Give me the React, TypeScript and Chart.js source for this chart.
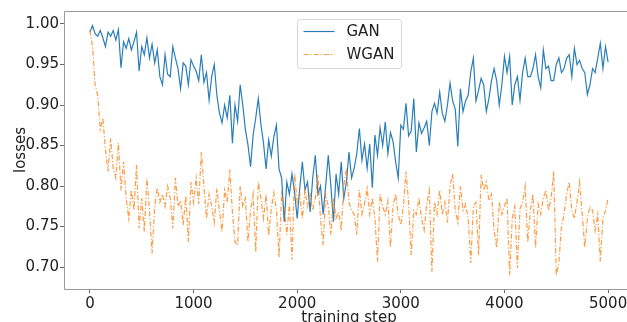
import { useEffect, useRef } from 'react';
import { Chart, registerables } from 'chart.js';

Chart.register(...registerables);

// Loss values logged every 25 training steps, from step 0 to step 5000.
const stepInterval = 25;

const ganLoss = [
  0.990, 0.998, 0.988, 0.985, 0.992, 0.983, 0.972, 0.990, 0.985, 0.992,
  0.980, 0.993, 0.946, 0.978, 0.970, 0.982, 0.968, 0.978, 0.990, 0.942,
  0.972, 0.962, 0.983, 0.958, 0.975, 0.952, 0.968, 0.935, 0.925, 0.962,
  0.938, 0.935, 0.972, 0.958, 0.945, 0.920, 0.952, 0.948, 0.925, 0.956,
  0.948, 0.942, 0.930, 0.962, 0.928, 0.940, 0.906, 0.935, 0.950, 0.912,
  0.890, 0.878, 0.900, 0.884, 0.912, 0.853, 0.900, 0.880, 0.925, 0.900,
  0.870, 0.851, 0.824, 0.863, 0.884, 0.908, 0.876, 0.853, 0.821, 0.857,
  0.837, 0.861, 0.875, 0.821, 0.810, 0.756, 0.805, 0.790, 0.815, 0.792,
  0.760, 0.798, 0.830, 0.795, 0.805, 0.768, 0.810, 0.838, 0.790, 0.800,
  0.765, 0.800, 0.838, 0.800, 0.756, 0.815, 0.790, 0.830, 0.785, 0.805,
  0.842, 0.810, 0.822, 0.840, 0.871, 0.832, 0.852, 0.822, 0.852, 0.798,
  0.863, 0.838, 0.872, 0.850, 0.879, 0.840, 0.866, 0.855, 0.830, 0.810,
  0.875, 0.870, 0.902, 0.862, 0.868, 0.908, 0.842, 0.878, 0.865, 0.872,
  0.880, 0.850, 0.892, 0.902, 0.890, 0.916, 0.890, 0.880, 0.900, 0.927,
  0.905, 0.895, 0.849, 0.920, 0.892, 0.905, 0.912, 0.941, 0.958, 0.905,
  0.918, 0.933, 0.925, 0.892, 0.908, 0.930, 0.945, 0.930, 0.900, 0.925,
  0.960, 0.940, 0.960, 0.900, 0.925, 0.935, 0.906, 0.940, 0.958, 0.935,
  0.935, 0.945, 0.962, 0.935, 0.921, 0.968, 0.945, 0.948, 0.930, 0.930,
  0.950, 0.958, 0.940, 0.945, 0.958, 0.962, 0.935, 0.970, 0.950, 0.955,
  0.945, 0.940, 0.913, 0.925, 0.945, 0.940, 0.958, 0.976, 0.945, 0.972,
  0.953,
];

const wganLoss = [
  0.992, 0.972, 0.925, 0.912, 0.870, 0.884, 0.845, 0.818, 0.859, 0.822,
  0.810, 0.853, 0.795, 0.830, 0.785, 0.760, 0.795, 0.770, 0.826, 0.748,
  0.785, 0.744, 0.810, 0.770, 0.717, 0.775, 0.798, 0.780, 0.790, 0.775,
  0.800, 0.785, 0.748, 0.810, 0.775, 0.782, 0.752, 0.788, 0.731, 0.805,
  0.780, 0.810, 0.778, 0.842, 0.800, 0.760, 0.790, 0.775, 0.755, 0.797,
  0.770, 0.744, 0.795, 0.780, 0.820, 0.768, 0.731, 0.727, 0.800, 0.775,
  0.785, 0.731, 0.770, 0.790, 0.719, 0.805, 0.785, 0.760, 0.790, 0.739,
  0.772, 0.792, 0.770, 0.712, 0.790, 0.775, 0.740, 0.778, 0.709, 0.815,
  0.780, 0.790, 0.760, 0.795, 0.775, 0.790, 0.770, 0.785, 0.814, 0.760,
  0.727, 0.790, 0.775, 0.740, 0.785, 0.760, 0.768, 0.745, 0.800, 0.822,
  0.780, 0.770, 0.765, 0.740, 0.795, 0.765, 0.778, 0.797, 0.765, 0.785,
  0.760, 0.707, 0.790, 0.775, 0.765, 0.782, 0.725, 0.775, 0.790, 0.765,
  0.752, 0.775, 0.818, 0.780, 0.715, 0.770, 0.765, 0.785, 0.760, 0.745,
  0.778, 0.795, 0.694, 0.780, 0.765, 0.795, 0.765, 0.780, 0.755, 0.800,
  0.815, 0.770, 0.755, 0.800, 0.770, 0.778, 0.760, 0.705, 0.775, 0.780,
  0.715, 0.814, 0.795, 0.805, 0.782, 0.790, 0.745, 0.724, 0.780, 0.765,
  0.775, 0.785, 0.690, 0.760, 0.775, 0.699, 0.772, 0.780, 0.800, 0.731,
  0.770, 0.790, 0.724, 0.778, 0.765, 0.785, 0.795, 0.770, 0.785, 0.818,
  0.690, 0.705, 0.750, 0.765, 0.790, 0.805, 0.770, 0.760, 0.780, 0.805,
  0.765, 0.724, 0.760, 0.775, 0.770, 0.745, 0.765, 0.707, 0.760, 0.770,
  0.785,
];

const seriesNames = ['GAN', 'WGAN'];
const xTickValues = [0, 1000, 2000, 3000, 4000, 5000];
const yTickValues = [0.7, 0.75, 0.8, 0.85, 0.9, 0.95, 1.0];
const xAxisTitle = 'training step';
const yAxisTitle = 'losses';

const FONT_FAMILY = '"DejaVu Sans", Verdana, sans-serif';
const FONT_SIZE = 15;
const TEXT_COLOR = '#222222';
const FRAME_COLOR = '#9a9a9a';
const TICK_COLOR = '#6a6a6a';
const GAN_COLOR = 'rgba(31,119,180,0.95)';
const WGAN_COLOR = 'rgba(255,127,14,0.78)';
const WGAN_DASH = [5, 2, 1.2, 2];

const CANVAS_W = 640;
const CANVAS_H = 335;

// Draws the closed plot frame, the legend box and both axis titles.
const framePlugin = {
  id: 'frameAndLegend',
  afterDraw(chart: Chart) {
    const { ctx, chartArea: a } = chart;
    ctx.save();

    ctx.strokeStyle = FRAME_COLOR;
    ctx.lineWidth = 1;
    ctx.setLineDash([]);
    ctx.beginPath();
    ctx.moveTo(a.left + 0.5, a.top + 0.5);
    ctx.lineTo(a.right - 0.5, a.top + 0.5);
    ctx.lineTo(a.right - 0.5, a.bottom + 0.5);
    ctx.lineTo(a.left + 0.5, a.bottom + 0.5);
    ctx.closePath();
    ctx.stroke();

    // legend, upper centre
    const cx = (a.left + a.right) / 2;
    const boxW = 104;
    const boxH = 49;
    const bx = Math.round(cx - boxW / 2) + 0.5;
    const by = a.top + 8 + 0.5;
    ctx.beginPath();
    ctx.roundRect(bx, by, boxW, boxH, 3);
    ctx.fillStyle = 'rgba(255,255,255,0.8)';
    ctx.fill();
    ctx.strokeStyle = '#d6d6d6';
    ctx.stroke();

    const rows = [
      { label: seriesNames[0], color: GAN_COLOR, dash: [] as number[] },
      { label: seriesNames[1], color: WGAN_COLOR, dash: WGAN_DASH },
    ];
    ctx.font = `${FONT_SIZE}px ${FONT_FAMILY}`;
    ctx.textBaseline = 'middle';
    ctx.textAlign = 'left';
    rows.forEach((row, i) => {
      const ry = by + 12 + i * 23;
      ctx.beginPath();
      ctx.setLineDash(row.dash);
      ctx.strokeStyle = row.color;
      ctx.lineWidth = 1.2;
      ctx.moveTo(bx + 6, ry);
      ctx.lineTo(bx + 37, ry);
      ctx.stroke();
      ctx.setLineDash([]);
      ctx.fillStyle = TEXT_COLOR;
      ctx.fillText(row.label, bx + 49, ry + 1);
    });

    // axis titles
    ctx.fillStyle = TEXT_COLOR;
    ctx.textAlign = 'center';
    ctx.textBaseline = 'alphabetic';
    ctx.fillText(xAxisTitle, cx, a.bottom + 32.5);

    ctx.translate(25, (a.top + a.bottom) / 2);
    ctx.rotate(-Math.PI / 2);
    ctx.fillText(yAxisTitle, 0, 0);

    ctx.restore();
  },
};

export default function App() {
  const canvasRef = useRef<HTMLCanvasElement | null>(null);

  useEffect(() => {
    const canvas = canvasRef.current;
    if (!canvas) return;

    const tickFont = { family: FONT_FAMILY, size: FONT_SIZE };

    const chart = new Chart(canvas, {
      type: 'line',
      data: {
        datasets: [
          {
            label: seriesNames[0],
            data: ganLoss.map((v, i) => ({ x: i * stepInterval, y: v })),
            borderColor: GAN_COLOR,
            borderWidth: 1.2,
            pointRadius: 0,
            tension: 0,
            fill: false,
            order: 1,
          },
          {
            label: seriesNames[1],
            data: wganLoss.map((v, i) => ({ x: i * stepInterval, y: v })),
            borderColor: WGAN_COLOR,
            borderWidth: 1.2,
            borderDash: WGAN_DASH,
            pointRadius: 0,
            tension: 0,
            fill: false,
            order: 0,
          },
        ],
      },
      options: {
        animation: false,
        responsive: false,
        maintainAspectRatio: false,
        devicePixelRatio: 1,
        layout: { padding: { top: 11, right: 6, left: 0, bottom: 0 } },
        plugins: {
          legend: { display: false },
          tooltip: { enabled: false },
        },
        scales: {
          x: {
            type: 'linear',
            min: -250,
            max: 5250,
            afterBuildTicks: (scale: any) => {
              scale.ticks = xTickValues.map((value) => ({ value }));
            },
            afterFit: (scale: any) => {
              scale.height = 46;
            },
            border: { display: false },
            grid: {
              drawOnChartArea: false,
              drawTicks: true,
              tickLength: 4,
              color: TICK_COLOR,
              lineWidth: 1,
            },
            ticks: {
              font: tickFont,
              color: TEXT_COLOR,
              padding: 2,
              maxRotation: 0,
              autoSkip: false,
              callback: (v: any) => String(v),
            },
          },
          y: {
            type: 'linear',
            min: 0.673,
            max: 1.016,
            afterBuildTicks: (scale: any) => {
              scale.ticks = yTickValues.map((value) => ({ value }));
            },
            afterFit: (scale: any) => {
              scale.width = 64;
            },
            border: { display: false },
            grid: {
              drawOnChartArea: false,
              drawTicks: true,
              tickLength: 4,
              color: TICK_COLOR,
              lineWidth: 1,
            },
            ticks: {
              font: tickFont,
              color: TEXT_COLOR,
              padding: 1,
              autoSkip: false,
              callback: (v: any) => Number(v).toFixed(2),
            },
          },
        },
      },
      plugins: [framePlugin],
    });

    return () => chart.destroy();
  }, []);

  return (
    <div
      style={{
        position: 'fixed',
        left: 0,
        top: 0,
        width: CANVAS_W,
        height: CANVAS_H,
        background: '#ffffff',
      }}
    >
      <canvas ref={canvasRef} width={CANVAS_W} height={CANVAS_H} />
    </div>
  );
}
